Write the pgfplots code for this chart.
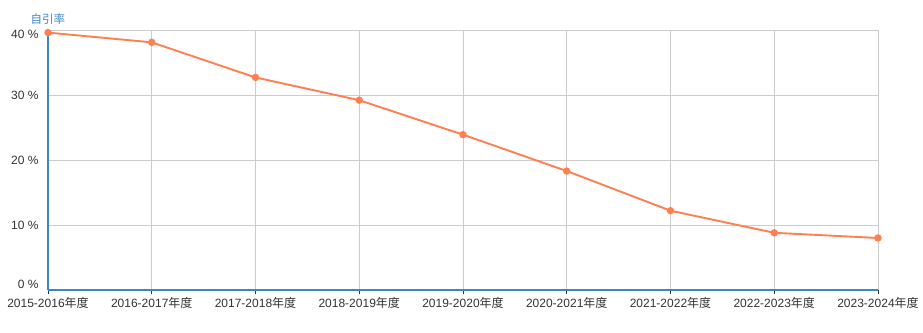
\documentclass[border=0pt]{standalone}
\usepackage{pgfplots}
\pgfplotsset{compat=1.18}
\usepackage{fontspec}
\setmainfont{Liberation Sans}
\newfontfamily\cjk{Noto Sans CJK SC}
\definecolor{linec}{HTML}{FF7F50}
\definecolor{axc}{HTML}{3C87C3}
\definecolor{gridc}{HTML}{CCCCCC}
\definecolor{txtc}{HTML}{333333}
\begin{document}
\begin{tikzpicture}
\useasboundingbox (-48pt,-42pt) rectangle (875pt,290pt);
\begin{axis}[
  scale only axis, width=830pt, height=260pt,
  xmin=0, xmax=8, ymin=0, ymax=40,
  axis lines=left, axis line style={-, axc, line width=1.8pt},
  xtick={0,1,2,3,4,5,6,7,8},
  xticklabels={2015-2016{\cjk 年度},2016-2017{\cjk 年度},2017-2018{\cjk 年度},2018-2019{\cjk 年度},2019-2020{\cjk 年度},2020-2021{\cjk 年度},2021-2022{\cjk 年度},2022-2023{\cjk 年度},2023-2024{\cjk 年度}},
  ytick={0,10,20,30,40},
  yticklabels={\raisebox{6pt}[\height][\depth]{0 \%},10 \%,20 \%,30 \%,\raisebox{-4pt}[\height][\depth]{40 \%}},
  tick label style={font=\fontsize{12}{13}\selectfont, text=txtc},
  xtick style={draw=txtc, line width=0.8pt},
  ytick style={draw=none},
  tick align=outside, major tick length=4pt,
  grid=major, grid style={gridc, line width=0.8pt},
  xticklabel style={yshift=0pt},
  yticklabel style={xshift=-2pt},
  clip=false,
]
\addplot[color=linec, line width=1.9pt, mark=*, mark size=2.7pt, mark options={fill=linec, draw=linec}] coordinates {
  (0,39.6) (1,38.1) (2,32.7) (3,29.2) (4,23.9) (5,18.3) (6,12.2) (7,8.8) (8,8.0)
};
\node[anchor=south, text=axc, font=\cjk\fontsize{11.5}{12}\selectfont] at (rel axis cs:0,1) [yshift=2pt] {自引率};
\end{axis}
\end{tikzpicture}
\end{document}
